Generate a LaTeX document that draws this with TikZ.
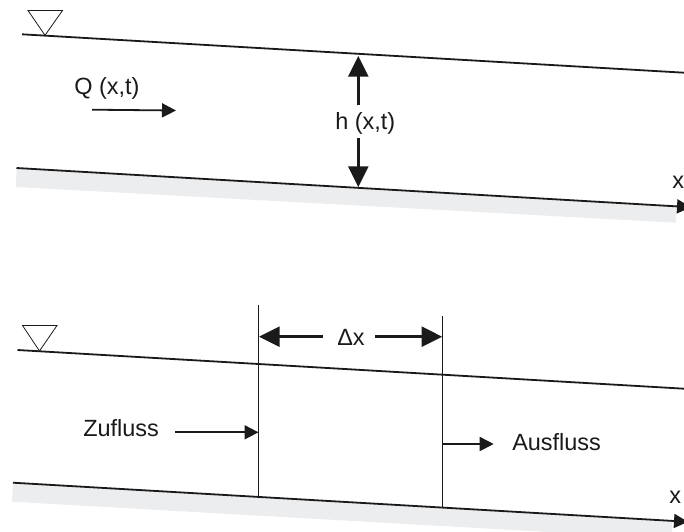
\documentclass[tikz,border=0pt]{standalone}
\usepackage{fontspec}
\setmainfont{Liberation Sans}
\usetikzlibrary{arrows.meta}
\definecolor{ink}{HTML}{1A1A1A}
\definecolor{bed}{HTML}{ECEDEF}
\tikzset{
	label/.style={anchor=base west, inner sep=0pt, text=ink, font=\fontsize{17.6pt}{20pt}\selectfont},
	level/.style={draw=ink, line width=1.35pt},
	wall/.style={draw=ink, line width=0.6pt},
	flow/.style={draw=ink, line width=1.35pt, -{Triangle[length=10.5pt,width=10.5pt]}},
	depth/.style={draw=ink, line width=2pt, -{Triangle[length=15.5pt,width=15pt]}},
}
\begin{document}
\begin{tikzpicture}[x=0.75pt,y=-0.75pt]
	\useasboundingbox (0,0) rectangle (684,531);
	\coordinate (S1a) at (22,34.3);
	\coordinate (S1b) at (684,72.7);
	\coordinate (B1a) at (16.5,168);
	\coordinate (B1b) at (691,207.2);
	\coordinate (G1) at (16,187);
	\coordinate (G2) at (676,222.7);
	\coordinate (G3) at (676,206.8);
	\coordinate (T1a) at (28,10.5);
	\coordinate (T1b) at (62.5,10.5);
	\coordinate (T1c) at (45,35.3);
	\coordinate (Q1) at (92,109.7);
	\coordinate (Q2) at (176,110.5);
	\coordinate (H1) at (358.3,105);
	\coordinate (H2) at (358.3,56);
	\coordinate (H3) at (358.3,138);
	\coordinate (H4) at (358.3,187);
	\fill[bed] (B1a) -- (G1) -- (G2) -- (G3) -- cycle;
	\draw[level] (S1a) -- (S1b);
	\draw[wall] (T1a) -- (T1b) -- (T1c) -- cycle;
	\draw[flow] (B1a) -- (B1b);
	\draw[flow] (Q1) -- (Q2);
	\draw[depth] (H1) -- (H2);
	\draw[depth] (H3) -- (H4);
	\node[label] (Qlabel) at (74,95) {Q (x,t)};
	\node[label] (hlabel) at (335,129) {h (x,t)};
	\node[label] (x1) at (672,188) {x};

	\coordinate (S2a) at (17.5,350);
	\coordinate (S2b) at (684,388.7);
	\coordinate (B2a) at (13,482.7);
	\coordinate (B2b) at (688,521.8);
	\coordinate (G4) at (12,501.7);
	\coordinate (G5) at (672,539);
	\coordinate (G6) at (672,520.7);
	\coordinate (T2a) at (22.5,325.5);
	\coordinate (T2b) at (57,325.5);
	\coordinate (T2c) at (39.5,351);
	\coordinate (L1) at (258.5,305);
	\coordinate (L2) at (258.5,497.3);
	\coordinate (R1) at (442.7,316);
	\coordinate (R2) at (442.7,507.8);
	\coordinate (D1) at (322.7,336.7);
	\coordinate (D2) at (259,336.7);
	\coordinate (D3) at (375,336.7);
	\coordinate (D4) at (442.2,336.7);
	\coordinate (Z1) at (175,432.3);
	\coordinate (Z2) at (258.5,432.3);
	\coordinate (A1) at (442.7,444);
	\coordinate (A2) at (493.7,444);
	\fill[bed] (B2a) -- (G4) -- (G5) -- (G6) -- cycle;
	\draw[level] (S2a) -- (S2b);
	\draw[wall] (T2a) -- (T2b) -- (T2c) -- cycle;
	\draw[flow] (B2a) -- (B2b);
	\draw[wall] (L1) -- (L2);
	\draw[wall] (R1) -- (R2);
	\draw[depth] (D1) -- (D2);
	\draw[depth] (D3) -- (D4);
	\draw[flow] (Z1) -- (Z2);
	\draw[flow] (A1) -- (A2);
	\node[label] (dxlabel) at (337,345) {Δx};
	\node[label] (zlabel) at (83,436.7) {Zufluss};
	\node[label] (alabel) at (512,450.7) {Ausfluss};
	\node[label] (x2) at (669,503) {x};
\end{tikzpicture}
\end{document}
